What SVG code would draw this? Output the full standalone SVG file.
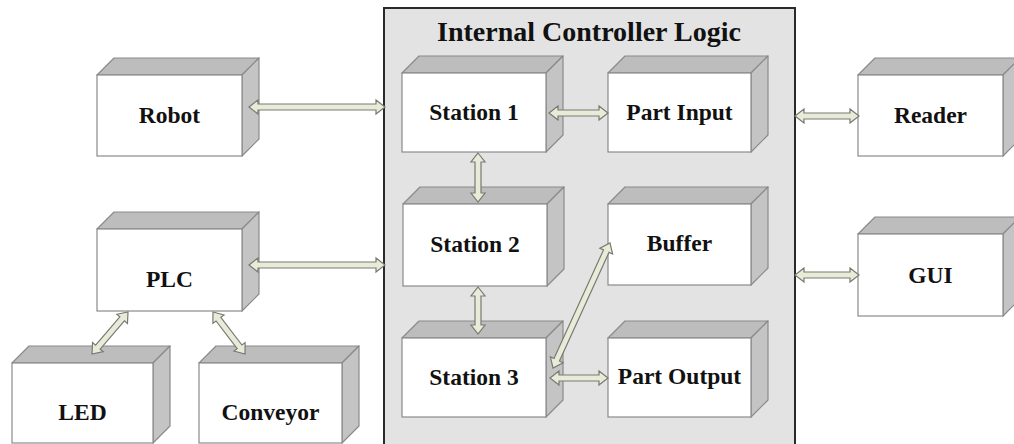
<svg xmlns="http://www.w3.org/2000/svg" width="1014" height="444" viewBox="0 0 1014 444">
<style>
.front{fill:#ffffff;stroke:#8a8a8a;stroke-width:1.2}
.top{fill:#bdbdbd;stroke:#8a8a8a;stroke-width:1.2;stroke-linejoin:round}
.side{fill:#c4c4c4;stroke:#8a8a8a;stroke-width:1.2;stroke-linejoin:round}
.lbl{font-family:"Liberation Serif","Times New Roman",serif;font-weight:bold;font-size:23.5px;fill:#111;text-anchor:middle}
.title{font-family:"Liberation Serif","Times New Roman",serif;font-weight:bold;font-size:28px;fill:#111;text-anchor:middle}
.arr{fill:#e8ebd8;stroke:#7a7a72;stroke-width:1.2;stroke-linejoin:miter}
</style>
<rect width="1014" height="444" fill="#ffffff"/>
<g id="container">
<rect x="384" y="8" width="411" height="450" fill="#e3e3e3" stroke="#2a2a2a" stroke-width="2"/>
<text class="title" x="589" y="41">Internal Controller Logic</text>
</g>
<g id="robot">
<polygon class="top" points="97,75 114,58 259,58 242,75"/>
<polygon class="side" points="242,75 259,58 259,139 242,156"/>
<rect class="front" x="97" y="75" width="145" height="81"/>
<text class="lbl" x="169.5" y="123">Robot</text>
</g>
<g id="plc">
<polygon class="top" points="97,229 114,212 259,212 242,229"/>
<polygon class="side" points="242,229 259,212 259,294 242,311"/>
<rect class="front" x="97" y="229" width="145" height="82"/>
<text class="lbl" x="169.5" y="287">PLC</text>
</g>
<g id="led">
<polygon class="top" points="12,363 29,346 170,346 153,363"/>
<polygon class="side" points="153,363 170,346 170,426 153,443"/>
<rect class="front" x="12" y="363" width="141" height="80"/>
<text class="lbl" x="82.5" y="420">LED</text>
</g>
<g id="conveyor">
<polygon class="top" points="199,363 216,346 359,346 342,363"/>
<polygon class="side" points="342,363 359,346 359,426 342,443"/>
<rect class="front" x="199" y="363" width="143" height="80"/>
<text class="lbl" x="270.5" y="420">Conveyor</text>
</g>
<g id="station1">
<polygon class="top" points="402,73 419,56 563,56 546,73"/>
<polygon class="side" points="546,73 563,56 563,135 546,152"/>
<rect class="front" x="402" y="73" width="144" height="79"/>
<text class="lbl" x="474" y="120">Station 1</text>
</g>
<g id="partinput">
<polygon class="top" points="608,73 625,56 768,56 751,73"/>
<polygon class="side" points="751,73 768,56 768,135 751,152"/>
<rect class="front" x="608" y="73" width="143" height="79"/>
<text class="lbl" x="679.5" y="120">Part Input</text>
</g>
<g id="station2">
<polygon class="top" points="403,204 420,187 564,187 547,204"/>
<polygon class="side" points="547,204 564,187 564,269 547,286"/>
<rect class="front" x="403" y="204" width="144" height="82"/>
<text class="lbl" x="475" y="252">Station 2</text>
</g>
<g id="buffer">
<polygon class="top" points="608,204 625,187 768,187 751,204"/>
<polygon class="side" points="751,204 768,187 768,268 751,285"/>
<rect class="front" x="608" y="204" width="143" height="81"/>
<text class="lbl" x="679.5" y="251">Buffer</text>
</g>
<g id="station3">
<polygon class="top" points="402,338 419,321 563,321 546,338"/>
<polygon class="side" points="546,338 563,321 563,400 546,417"/>
<rect class="front" x="402" y="338" width="144" height="79"/>
<text class="lbl" x="474" y="385">Station 3</text>
</g>
<g id="partoutput">
<polygon class="top" points="608,338 625,321 768,321 751,338"/>
<polygon class="side" points="751,338 768,321 768,400 751,417"/>
<rect class="front" x="608" y="338" width="143" height="79"/>
<text class="lbl" x="679.5" y="384">Part Output</text>
</g>
<g id="reader">
<polygon class="top" points="858,75 875,58 1020,58 1003,75"/>
<polygon class="side" points="1003,75 1020,58 1020,139 1003,156"/>
<rect class="front" x="858" y="75" width="145" height="81"/>
<text class="lbl" x="930.5" y="123">Reader</text>
</g>
<g id="gui">
<polygon class="top" points="858,234 875,217 1020,217 1003,234"/>
<polygon class="side" points="1003,234 1020,217 1020,299 1003,316"/>
<rect class="front" x="858" y="234" width="145" height="82"/>
<text class="lbl" x="930.5" y="283">GUI</text>
</g>
<g id="connectors">
<path class="arr" transform="translate(249,107)" d="M0,0 L9,-7 L9,-3 L127,-3 L127,-7 L136,0 L127,7 L127,3 L9,3 L9,7 Z"/>
<path class="arr" transform="translate(249,265)" d="M0,0 L9,-7 L9,-3 L127,-3 L127,-7 L136,0 L127,7 L127,3 L9,3 L9,7 Z"/>
<path class="arr" transform="translate(549,113)" d="M0,0 L9,-7 L9,-3 L50,-3 L50,-7 L59,0 L50,7 L50,3 L9,3 L9,7 Z"/>
<path class="arr" transform="translate(478,153) rotate(90)" d="M0,0 L9,-7 L9,-3 L40,-3 L40,-7 L49,0 L40,7 L40,3 L9,3 L9,7 Z"/>
<path class="arr" transform="translate(478,287) rotate(90)" d="M0,0 L9,-7 L9,-3 L38,-3 L38,-7 L47,0 L38,7 L38,3 L9,3 L9,7 Z"/>
<path class="arr" transform="translate(553,368) rotate(-65.5)" d="M0,0 L9,-7 L9,-3 L128.4,-3 L128.4,-7 L137.4,0 L128.4,7 L128.4,3 L9,3 L9,7 Z"/>
<path class="arr" transform="translate(550,378)" d="M0,0 L9,-7 L9,-3 L49,-3 L49,-7 L58,0 L49,7 L49,3 L9,3 L9,7 Z"/>
<path class="arr" transform="translate(795,116)" d="M0,0 L9,-7 L9,-3 L55,-3 L55,-7 L64,0 L55,7 L55,3 L9,3 L9,7 Z"/>
<path class="arr" transform="translate(795,275)" d="M0,0 L9,-7 L9,-3 L55,-3 L55,-7 L64,0 L55,7 L55,3 L9,3 L9,7 Z"/>
<path class="arr" transform="translate(128,312) rotate(130.6)" d="M0,0 L9,-7 L9,-3 L46.3,-3 L46.3,-7 L55.3,0 L46.3,7 L46.3,3 L9,3 L9,7 Z"/>
<path class="arr" transform="translate(213,312) rotate(52.7)" d="M0,0 L9,-7 L9,-3 L43.8,-3 L43.8,-7 L52.8,0 L43.8,7 L43.8,3 L9,3 L9,7 Z"/>
</g>
</svg>
